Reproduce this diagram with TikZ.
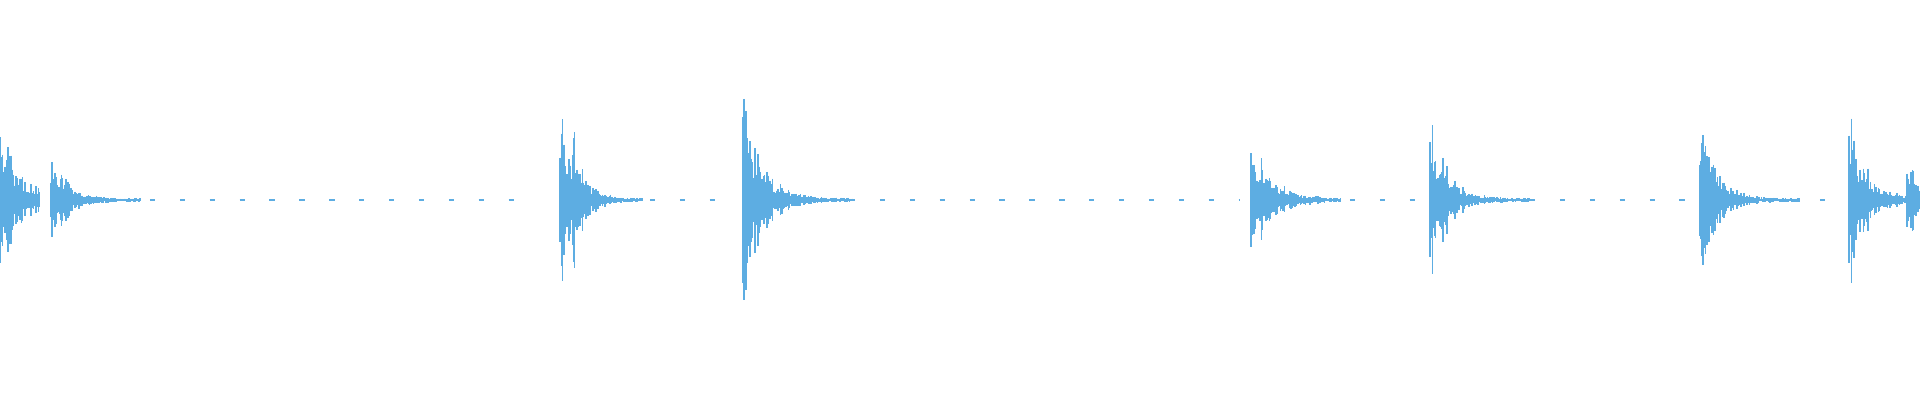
\documentclass[tikz,border=0pt]{standalone}
\definecolor{wave}{RGB}{93,173,226}
\tikzset{sample/.style={draw=wave, line width=0.45pt},
  tail/.style={draw=wave, line width=0.45pt, dash pattern=on 1.5pt off 7pt}}
\begin{document}
\begin{tikzpicture}[x=0.01cm, y=0.01cm]
  \useasboundingbox (0,0) rectangle (1920,400);
  \pgfmathsetseed{7}
  % low level noise between the hits
  \foreach \xa/\xb in {120/530, 620/720, 850/1240, 1320/1420, 1530/1690, 1790/1840, 1885/1905}
    \draw[tail] (\xa,200) -- (\xb,200);
  % hits: start / peak / decay / length
  \foreach \xo/\amp/\dec/\len in {0/75/22/40, 51/54/15/90, 560/102/13/30, 573/78/12/70,
      743/112/19/110, 1251/78/18/90, 1430/94/16/100, 1700/92/16/100,
      1849/96/17/60, 1907/48/14/13}
  {
    \foreach \k in {0,0.8,...,\len}
    {
      \pgfmathsetmacro\r{rnd}
      \pgfmathsetmacro\up{max(\amp*exp(-\k/\dec)*(0.3+0.7*\r*\r)+2*rnd,1)}
      \pgfmathsetmacro\dn{max(\amp*exp(-\k/\dec)*(0.3+0.7*\r*\r)+2*rnd,1)}
      \draw[sample] (\xo+\k,200+\up) -- (\xo+\k,200-\dn);
    }
  }
\end{tikzpicture}
\end{document}
